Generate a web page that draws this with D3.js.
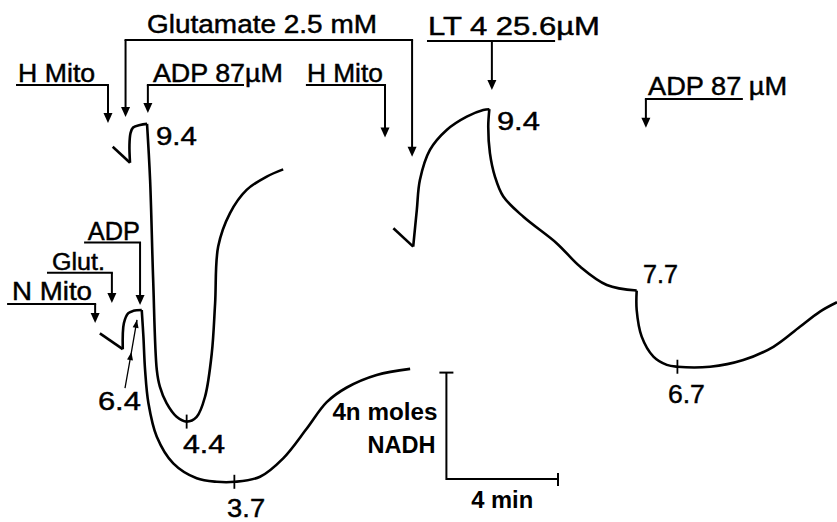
<!DOCTYPE html>
<html><head><meta charset="utf-8">
<script src="https://cdn.jsdelivr.net/npm/d3@7"></script>
<style>html,body{margin:0;padding:0;background:#fff}svg{display:block}text.lab{stroke:#000;stroke-width:0.45px}</style>
</head><body><svg id="c" width="837" height="522"></svg>
<script>
// ---------- DATA (time in min, NADH level in nmol) ----------
// Trace 1: heart mitochondria + glutamate + ADP 87 µM
const h1Mix  = [[4.04,14.09],[4.66,13.49]];
const h1Rise = [[4.66,13.49],[4.64,14.16],[4.68,14.61],[4.77,14.81],[5.02,14.91],[5.27,14.95]];
const h1Fall = [[5.27,14.95],[5.38,12.84],[5.49,9.09],[5.62,5.71],[5.73,5.08],[5.97,4.46],[6.33,3.95],[6.69,3.77],
                [7.05,3.95],[7.35,4.71],[7.59,6.33],[7.71,8.21],[7.82,10.34],[8.24,11.59],[8.84,12.47],[9.56,12.97],[10.15,13.24]];
// Trace 2: normal mitochondria + glut. + ADP
const nMix  = [[3.58,7.08],[4.40,6.49]];
const nRise = [[4.40,6.49],[4.44,7.46],[4.60,7.84],[4.78,7.93],[5.08,7.96]];
const nFall = [[5.08,7.96],[5.14,6.96],[5.20,5.71],[5.32,4.46],[5.62,3.20],[6.21,2.20],[7.05,1.64],[7.77,1.51],[8.42,1.51],
               [9.32,1.70],[10.15,2.39],[10.99,3.50],[11.71,4.50],[12.43,5.05],[13.50,5.52],[14.70,5.75]];
// Trace 3: heart mitochondria + glutamate + LT4 25.6 µM, then ADP 87 µM
const h2Mix  = [[14.10,11.03],[14.81,10.34]];
const h2Rise = [[14.81,10.34],[14.94,11.72],[15.05,12.84],[15.41,13.97],[16.01,14.72],[16.73,15.22],[17.32,15.47],[17.54,15.50]];
const h2Fall = [[17.54,15.50],[17.50,14.84],[17.56,13.85],[17.74,12.97],[18.04,12.22],[18.76,11.46],[19.95,10.47],
                [20.79,9.59],[21.75,8.90],[22.82,8.69]];
const h2Adp  = [[22.82,8.69],[22.82,7.96],[23.00,6.96],[23.42,6.21],[23.90,5.90],[24.28,5.83],[25.45,5.83],[26.64,6.08],
                [27.72,6.58],[28.67,7.33],[29.39,7.90],[30.00,8.25]];

// minima tick marks
const tickT = [6.69, 8.40, 24.28];
const tickN = [3.77, 1.51, 5.83];

// value labels
const valueLabels = ["9.4","9.4","6.4","4.4","3.7","7.7","6.7"];
const valueT      = [5.59, 17.81, 3.51, 6.56, 8.14, 23.05, 23.94];
const valueN      = [14.16, 14.72, 4.21, 2.59, 0.17, 8.97, 4.47];

// additions (arrows)
const addLabels   = ["H  Mito","ADP 87µM","H Mito","LT 4  25.6µM","ADP 87 µM","ADP","Glut.","N Mito"];
const addTimes    = [3.87, 5.30, 13.80, 17.63, 23.15, 5.02, 4.01, 3.41];
const addBarFrom  = [0.61, 5.30, 11.00, 15.34, 23.15, 3.05, 1.72, 0.29];
const addBarTo    = [3.87, 8.71, 13.80, 19.86, 26.59, 5.02, 4.01, 3.41];
const addBarLevel = [16.41, 16.41, 16.41, 18.06, 15.88, 10.49, 9.36, 8.19];
const addTipLevel = [14.98, 15.36, 14.44, 16.22, 14.80, 8.15, 8.22, 7.47];
const addTextT    = [0.65, 5.48, 11.00, 15.34, 23.23, 3.15, 1.86, 0.43];

// glutamate bracket (two additions)
const glutLabel = "Glutamate 2.5 mM";
const glutTimes = [4.50, 14.77];
const glutTips  = [15.21, 13.71];
const glutLevel = 18.10;
const glutTextT = 5.27;

// pointer to 6.4
const pointer64 = [[4.48,5.03],[4.71,6.38],[4.91,7.59]];

// scale bar
const scaleT0 = 16.0, scaleN0 = 1.61, scaleLenT = 4, scaleLenN = 4;
const scaleLabels = ["4n moles","NADH","4 min"];

// ---------- LAYOUT ----------
const W = 837, H = 522;
const x = d3.scaleLinear().domain([0, 30]).range([0, W]);
const y = d3.scaleLinear().domain([0, 19.6]).range([H, 0]);
const svg = d3.select("#c");
const FONT = "'Liberation Sans', Arial, Helvetica, sans-serif";
const INK = "#000";

const lineLin = d3.line().x(d => x(d[0])).y(d => y(d[1]));
const lineCurve = d3.line().x(d => x(d[0])).y(d => y(d[1])).curve(d3.curveCatmullRom.alpha(0.5));

const gT = svg.append("g").attr("fill","none").attr("stroke",INK).attr("stroke-width",2.6)
  .attr("stroke-linejoin","miter").attr("stroke-linecap","butt");
[[h1Mix,false],[h1Rise,true],[h1Fall,true],[nMix,false],[nRise,true],[nFall,true],
 [h2Mix,false],[h2Rise,true],[h2Fall,true],[h2Adp,true]].forEach(([pts,curved]) => {
  gT.append("path").attr("d", (curved ? lineCurve : lineLin)(pts));
});

// minima ticks
const gK = svg.append("g").attr("stroke",INK).attr("stroke-width",1.8);
tickT.forEach((t,i) => {
  gK.append("line").attr("x1",x(t)).attr("x2",x(t)).attr("y1",y(tickN[i])-7).attr("y2",y(tickN[i])+7);
});

// arrows
const gA = svg.append("g");
function arrowDown(px, pyTop, pyTip) {
  const hw = 4.5, hl = 10;
  gA.append("line").attr("x1",px).attr("x2",px).attr("y1",pyTop).attr("y2",pyTip-hl+1)
    .attr("stroke",INK).attr("stroke-width",2);
  gA.append("path").attr("d",`M${px-hw},${pyTip-hl}L${px+hw},${pyTip-hl}L${px},${pyTip}Z`).attr("fill",INK);
}
function hbar(x1, x2, py) {
  gA.append("line").attr("x1",x1-1).attr("x2",x2+1).attr("y1",py).attr("y2",py)
    .attr("stroke",INK).attr("stroke-width",2);
}
const addTextW = [77,130,76,172,139,52,53,80];
const addTextOff = [3,3,3,6,4,3,3,4];
const addFont = [25,25,25,25,25,25,23,25];
addLabels.forEach((lab,i) => {
  const by = y(addBarLevel[i]);
  hbar(x(addBarFrom[i]), x(addBarTo[i]), by);
  arrowDown(x(addTimes[i]), by, y(addTipLevel[i]));
  svg.append("text").attr("class","lab").attr("x",x(addTextT[i])).attr("y",by-addTextOff[i])
    .attr("font-family",FONT).attr("font-size",addFont[i]).attr("fill",INK)
    .attr("textLength",addTextW[i]).attr("lengthAdjust","spacingAndGlyphs").text(lab);
});
// glutamate bracket
hbar(x(glutTimes[0]), x(glutTimes[1]), y(glutLevel));
glutTimes.forEach((t,i) => arrowDown(x(t), y(glutLevel), y(glutTips[i])));
svg.append("text").attr("class","lab").attr("x",x(glutTextT)).attr("y",y(glutLevel)-7)
  .attr("font-family",FONT).attr("font-size",25).attr("fill",INK)
  .attr("textLength",230).attr("lengthAdjust","spacingAndGlyphs").text(glutLabel);

// value labels
const valW = [41,43,43,42,38,35,37];
valueLabels.forEach((lab,i) => {
  svg.append("text").attr("class","lab").attr("x",x(valueT[i])).attr("y",y(valueN[i]))
    .attr("font-family",FONT).attr("font-size",26).attr("fill",INK)
    .attr("textLength",valW[i]).attr("lengthAdjust","spacingAndGlyphs").text(lab);
});

// pointer with two small heads
const pp = pointer64.map(d => [x(d[0]), y(d[1])]);
svg.append("path").attr("d", d3.line()(pp)).attr("fill","none").attr("stroke",INK).attr("stroke-width",1.3);
[1,2].forEach(k => {
  const [ax,ay] = pp[k], [bx,by] = pp[k-1];
  const ang = Math.atan2(ay-by, ax-bx);
  const L = 8, w = 3;
  const cx = ax - L*Math.cos(ang), cy = ay - L*Math.sin(ang);
  const nx = -Math.sin(ang)*w, ny = Math.cos(ang)*w;
  svg.append("path").attr("d",`M${ax},${ay}L${cx+nx},${cy+ny}L${cx-nx},${cy-ny}Z`).attr("fill",INK);
});

// scale bar
const sx0 = x(scaleT0), sy0 = y(scaleN0), sx1 = x(scaleT0+scaleLenT), sy1 = y(scaleN0+scaleLenN);
const gS = svg.append("g").attr("stroke",INK).attr("stroke-width",2).attr("fill","none");
gS.append("path").attr("d",`M${sx0},${sy1}V${sy0}H${sx1}`);
gS.append("line").attr("x1",sx0-7).attr("x2",sx0+7).attr("y1",sy1).attr("y2",sy1);
gS.append("line").attr("x1",sx1).attr("x2",sx1).attr("y1",sy0-6).attr("y2",sy0+7);
svg.append("text").attr("x",sx0-9).attr("y",sy1+47).attr("text-anchor","end")
  .attr("font-family",FONT).attr("font-weight","bold").attr("font-size",23).attr("fill",INK)
  .attr("textLength",105).attr("lengthAdjust","spacingAndGlyphs").text(scaleLabels[0]);
svg.append("text").attr("x",sx0-11).attr("y",sy1+80).attr("text-anchor","end")
  .attr("font-family",FONT).attr("font-weight","bold").attr("font-size",24).attr("fill",INK)
  .attr("textLength",68).attr("lengthAdjust","spacingAndGlyphs").text(scaleLabels[1]);
svg.append("text").attr("x",(sx0+sx1)/2).attr("y",sy0+29).attr("text-anchor","middle")
  .attr("font-family",FONT).attr("font-weight","bold").attr("font-size",23).attr("fill",INK)
  .attr("textLength",62).attr("lengthAdjust","spacingAndGlyphs").text(scaleLabels[2]);
</script></body></html>
